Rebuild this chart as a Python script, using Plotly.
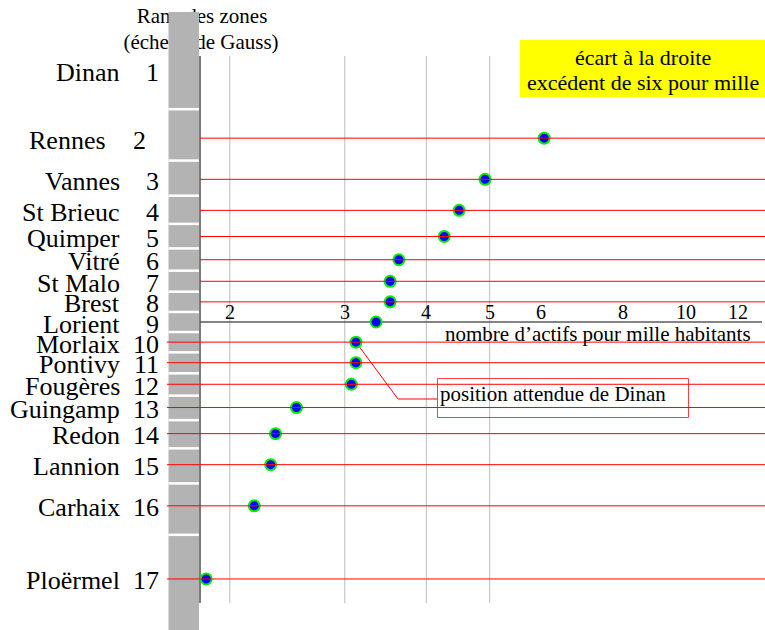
import math
from statistics import NormalDist
import plotly.graph_objects as go

# ---------------- data ----------------
zones = ["Dinan", "Rennes", "Vannes", "St Brieuc", "Quimper", "Vitré", "St Malo", "Brest",
         "Lorient", "Morlaix", "Pontivy", "Fougères", "Guingamp", "Redon", "Lannion",
         "Carhaix", "Ploërmel"]
ranks = list(range(1, 18))
# nombre d'actifs pour mille habitants (Dinan: no observed point plotted)
actifs = [None, 6.06, 4.92, 4.49, 4.26, 3.63, 3.52, 3.52, 3.35, 3.12, 3.12, 3.07,
          2.53, 2.35, 2.31, 2.18, 1.84]
tick_vals = [2, 3, 4, 5, 6, 8, 10, 12]
tick_text = ["2", "3", "4", "5", "6", "8", "10", "12"]
grid_vals = [2, 3, 4, 5]

N = len(zones)
W, H = 765, 630
FONT = "Liberation Serif, Times New Roman, serif"

# ---------------- scales ----------------
PXD = 653.0                       # px per decade on the log axis
X0 = math.log10(2) - 229.8 / PXD  # log value at px 0
X1 = X0 + W / PXD
YC, YS = 322.0, 136.0             # Gauss scale: px of median, px per sigma
nd = NormalDist()


def gauss(r):
    return nd.inv_cdf((r - 0.5) / N)


def xv(px):
    return 10 ** (X0 + px / PXD)


def yv(py):
    return (py - YC) / YS


def px_(p):
    return p / W


def py_(p):
    return 1 - p / H


zr = [gauss(r) for r in ranks]

fig = go.Figure()

# header text (partly hidden behind the grey bar)
fig.add_trace(go.Scatter(x=[xv(202), xv(201)], y=[yv(18), yv(44)], mode="text",
                         text=["Rang des zones", "(échelle de Gauss)"],
                         textfont=dict(family=FONT, size=21, color="black"),
                         hoverinfo="skip", showlegend=False, cliponaxis=False))

# grey Gauss bar
bx0, bx1, by0, by1 = 168.5, 199, 12, 630
fig.add_trace(go.Scatter(x=[xv(bx0), xv(bx1), xv(bx1), xv(bx0), xv(bx0)],
                         y=[yv(by0), yv(by0), yv(by1), yv(by1), yv(by0)],
                         mode="lines", fill="toself", fillcolor="#b3b3b3",
                         line=dict(width=0, color="#b3b3b3"),
                         hoverinfo="skip", showlegend=False))
# white boundaries k/N on the bar
wx, wy = [], []
for k in range(1, N):
    z = nd.inv_cdf(k / N)
    wx += [xv(bx0), xv(bx1), None]
    wy += [z, z, None]
fig.add_trace(go.Scatter(x=wx, y=wy, mode="lines", line=dict(color="white", width=2.5),
                         hoverinfo="skip", showlegend=False))

# vertical grid lines
gx, gy = [], []
for v in grid_vals:
    gx += [v, v, None]
    gy += [yv(56), yv(603), None]
fig.add_trace(go.Scatter(x=gx, y=gy, mode="lines", line=dict(color="#bdbdbd", width=1),
                         hoverinfo="skip", showlegend=False))

# vertical axis and horizontal (median) axis
fig.add_trace(go.Scatter(x=[xv(200), xv(200), None, xv(200), xv(762)],
                         y=[yv(56), yv(603), None, gauss(9), gauss(9)],
                         mode="lines", line=dict(color="#5a5a5a", width=1.6),
                         hoverinfo="skip", showlegend=False))

# connector to the "position attendue de Dinan" box
fig.add_trace(go.Scatter(x=[actifs[9], xv(398), xv(437)],
                         y=[gauss(10), yv(399), yv(399)],
                         mode="lines", line=dict(color="red", width=1),
                         hoverinfo="skip", showlegend=False))

# points
fig.add_trace(go.Scatter(x=[a for a in actifs if a is not None],
                         y=[z for a, z in zip(actifs, zr) if a is not None],
                         mode="markers",
                         marker=dict(size=11, color="#0000ff",
                                     line=dict(color="#00ee00", width=2)),
                         hoverinfo="skip", showlegend=False))

# red rank lines
lx, ly = [], []
for r, z in zip(ranks, zr):
    if r == 1 or r == 9:
        continue
    start = 200 if r < 9 else 167
    lx += [xv(start), xv(W), None]
    ly += [z, z, None]
fig.add_trace(go.Scatter(x=lx, y=ly, mode="lines", line=dict(color="red", width=1),
                         hoverinfo="skip", showlegend=False))

ann = []
# zone names and ranks
for r, name, z in zip(ranks, zones, zr):
    nx, rx = (108, 148) if name == "Rennes" else (122, 161)
    yy = yv(70) if r == 1 else z
    ann.append(dict(x=px_(nx), xref="paper", y=yy, yref="y", text=name, showarrow=False,
                    xanchor="right", yanchor="middle", yshift=-2,
                    font=dict(family=FONT, size=26, color="black")))
    ann.append(dict(x=px_(rx), xref="paper", y=yy, yref="y", text=str(r), showarrow=False,
                    xanchor="right", yanchor="middle", yshift=-2,
                    font=dict(family=FONT, size=26, color="black")))

# tick labels on the median axis
for v, t in zip(tick_vals, tick_text):
    ann.append(dict(x=math.log10(v), xref="x", y=py_(312), yref="paper", text=t,
                    showarrow=False, xanchor="center", yanchor="middle",
                    font=dict(family=FONT, size=20, color="black")))
ann.append(dict(x=px_(753), xref="paper", y=py_(334), yref="paper",
                text="nombre d\u2019actifs pour mille habitants", showarrow=False,
                xanchor="right", yanchor="middle",
                font=dict(family=FONT, size=21, color="black")))

# yellow box text
ann.append(dict(x=px_(643), xref="paper", y=py_(57), yref="paper", text="écart à la droite",
                showarrow=False, xanchor="center", yanchor="middle",
                font=dict(family=FONT, size=22, color="black")))
ann.append(dict(x=px_(643), xref="paper", y=py_(83), yref="paper",
                text="excédent de six pour mille",
                showarrow=False, xanchor="center", yanchor="middle",
                font=dict(family=FONT, size=22, color="black")))

# Dinan box text
ann.append(dict(x=px_(438), xref="paper", y=py_(394), yref="paper",
                text="position attendue de Dinan", showarrow=False,
                xanchor="left", yanchor="middle",
                font=dict(family=FONT, size=21, color="black")))

shapes = [
    dict(type="rect", xref="paper", yref="paper", x0=px_(520), x1=px_(765),
         y0=py_(40), y1=py_(97), fillcolor="#ffff00", line=dict(width=0), layer="above"),
    dict(type="rect", xref="paper", yref="paper", x0=px_(437.5), x1=px_(688.5),
         y0=py_(378.5), y1=py_(417.5), fillcolor="rgba(0,0,0,0)",
         line=dict(color="rgba(255,0,0,0.75)", width=1), layer="above"),
]

fig.update_layout(
    width=W, height=H, autosize=False,
    margin=dict(l=0, r=0, t=0, b=0, pad=0),
    paper_bgcolor="white", plot_bgcolor="white",
    showlegend=False, hovermode=False,
    xaxis=dict(type="log", range=[X0, X1], visible=False, fixedrange=True),
    yaxis=dict(range=[yv(H), yv(0)], visible=False, fixedrange=True),
    annotations=ann, shapes=shapes,
)

fig.write_html("out.html", config={"displayModeBar": False, "staticPlot": True},
               post_script="document.body.style.margin='0';document.body.style.overflow='hidden';")
